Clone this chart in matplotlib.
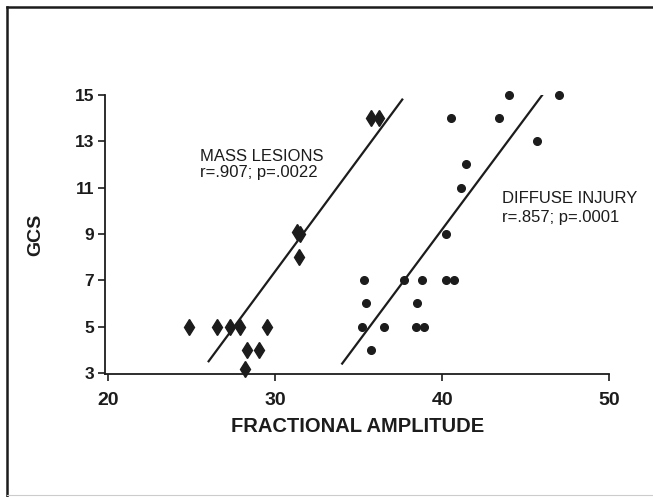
import matplotlib.pyplot as plt
from matplotlib.lines import Line2D

# dados
mass_x = [24.8, 26.5, 27.3, 27.9, 29.5, 28.3, 29.0, 28.2, 31.4, 31.3, 31.5, 35.7, 36.2]
mass_y = [5, 5, 5, 5, 5, 4, 4, 3.15, 8, 9.1, 9.0, 14, 14]

diff_x = [44.0, 47.0, 40.5, 43.4, 45.7, 41.4, 41.1, 40.2, 35.3, 37.7, 38.8, 40.2, 40.7,
          35.4, 38.5, 35.2, 36.5, 38.4, 38.9, 35.7]
diff_y = [15, 15, 14, 14, 13, 12, 11, 9, 7, 7, 7, 7, 7,
          6, 6, 5, 5, 5, 5, 4]

# retas de regressao (extremos)
mass_fit_x = [26.0, 37.6]
mass_fit_y = [3.5, 14.8]
diff_fit_x = [34.0, 46.3]
diff_fit_y = [3.4, 15.3]

x_ticks = [20, 30, 40, 50]
y_ticks = [3, 5, 7, 9, 11, 13, 15]

plt.rcParams['font.family'] = ['Liberation Sans', 'DejaVu Sans']
ink = '#1c1c1c'

fig = plt.figure(figsize=(6.53, 4.97), dpi=100)
ax = fig.add_axes([0.161, 0.2475, 0.772, 0.5615])

ax.plot(mass_x, mass_y, linestyle='none', marker='d', markersize=8.5,
        color=ink, clip_on=False)
ax.plot(diff_x, diff_y, linestyle='none', marker='o', markersize=5.5,
        color=ink, clip_on=False)
ax.plot(mass_fit_x, mass_fit_y, color=ink, linewidth=1.6)
ax.plot(diff_fit_x, diff_fit_y, color=ink, linewidth=1.6)

ax.set_xlim(19.8, 50)
ax.set_ylim(2.95, 15)
ax.set_xticks(x_ticks)
ax.set_yticks(y_ticks)
ax.tick_params(axis='x', labelsize=14, length=5, width=1.2, color=ink, labelcolor=ink, pad=8)
ax.tick_params(axis='y', labelsize=12.5, length=5, width=1.2, color=ink, labelcolor=ink, pad=3)
for lab in ax.get_xticklabels() + ax.get_yticklabels():
    lab.set_fontweight('bold')

ax.spines['top'].set_visible(False)
ax.spines['right'].set_visible(False)
for s in ['left', 'bottom']:
    ax.spines[s].set_color(ink)
    ax.spines[s].set_linewidth(1.3)

ax.set_xlabel('FRACTIONAL AMPLITUDE', fontsize=14.5, fontweight='bold', color=ink, labelpad=6)
ax.set_ylabel('GCS', fontsize=14, fontweight='bold', color=ink, labelpad=22)

ax.text(25.5, 12.14, 'MASS LESIONS', fontsize=12, color=ink, va='baseline')
ax.text(25.5, 11.45, 'r=.907; p=.0022', fontsize=12, color=ink, va='baseline')
ax.text(43.6, 10.33, 'DIFFUSE INJURY', fontsize=12, color=ink, va='baseline')
ax.text(43.6, 9.5, 'r=.857; p=.0001', fontsize=12, color=ink, va='baseline')

# moldura da figura
fig.add_artist(Line2D([7 / 653, 7 / 653], [0.0, 1 - 7 / 497], transform=fig.transFigure,
                      color=ink, linewidth=1.8))
fig.add_artist(Line2D([7 / 653, 1.0], [1 - 7 / 497, 1 - 7 / 497], transform=fig.transFigure,
                      color=ink, linewidth=1.8))
fig.add_artist(Line2D([7 / 653, 1.0], [2 / 497, 2 / 497], transform=fig.transFigure,
                      color='#cccccc', linewidth=0.8))

fig.savefig('out.png', dpi=100)
plt.close()
